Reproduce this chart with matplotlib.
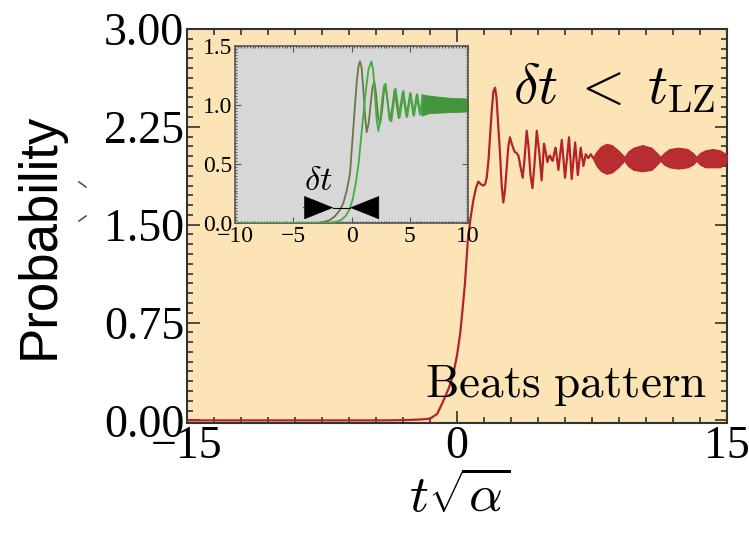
import matplotlib
matplotlib.use("Agg")
import matplotlib.pyplot as plt
from matplotlib.ticker import MultipleLocator, FixedLocator
from matplotlib.lines import Line2D

plt.rcParams['mathtext.fontset'] = 'cm'

# main curve: probability vs t*sqrt(alpha), resolved part
red_t = [-15, -4.0, -3.0, -2.5, -2.0, -1.5, -1.1, -0.76, -0.45, -0.2, 0.0, 0.17, 0.3, 0.44,
         0.6, 0.75, 0.91, 1.05, 1.18, 1.32, 1.46, 1.56, 1.65, 1.75, 1.83, 1.92, 2.02, 2.11,
         2.19, 2.28, 2.39, 2.48, 2.57, 2.66, 2.76, 2.85, 2.94, 3.04, 3.19, 3.30, 3.41, 3.53,
         3.65, 3.76, 3.87, 3.97, 4.08, 4.19, 4.31, 4.43, 4.57, 4.70, 4.77, 4.83, 4.92, 5.02,
         5.10, 5.17, 5.25, 5.32, 5.40, 5.48, 5.63, 5.82, 6.00, 6.22, 6.37, 6.56, 6.71, 6.87,
         7.02, 7.15, 7.29, 7.43, 7.57]
red_p = [0.0, 0.0, 0.002, 0.004, 0.007, 0.013, 0.05, 0.15, 0.25, 0.36, 0.5, 0.66, 0.84, 1.05,
         1.38, 1.55, 1.69, 1.78, 1.83, 1.81, 1.80, 1.81, 1.86, 2.0, 2.17, 2.36, 2.52, 2.55,
         2.48, 2.28, 2.04, 1.80, 1.67, 1.76, 1.94, 2.10, 2.17, 2.12, 2.06, 2.05, 2.03, 1.94,
         1.86, 2.02, 2.22, 2.10, 1.88, 1.78, 1.98, 2.22, 2.05, 1.84, 1.98, 2.12, 2.06, 1.98,
         2.02, 2.03, 2.00, 1.99, 2.05, 2.09, 1.92, 2.15, 1.86, 2.17, 1.85, 2.13, 1.88, 2.09,
         1.95, 2.04, 2.01, 2.04, 2.01]

# beats: envelope of the fast oscillation
beat_t = [7.57, 7.75, 8.0, 8.3, 8.6, 8.95, 9.3, 9.5, 9.8, 10.3, 10.8, 11.1, 11.3, 11.5, 11.8,
          12.3, 12.8, 13.1, 13.3, 13.5, 13.8, 14.2, 14.6, 14.85, 15.0]
beat_hi = [2.02, 2.06, 2.10, 2.12, 2.11, 2.07, 2.02, 2.06, 2.09, 2.11, 2.09, 2.05, 2.02, 2.05,
           2.08, 2.09, 2.08, 2.05, 2.02, 2.05, 2.07, 2.08, 2.07, 2.05, 2.03]
beat_lo = [2.00, 1.95, 1.91, 1.89, 1.90, 1.94, 1.99, 1.95, 1.92, 1.91, 1.92, 1.96, 1.99, 1.96,
           1.94, 1.93, 1.94, 1.96, 1.99, 1.96, 1.94, 1.94, 1.94, 1.96, 1.99]

# inset: the two single transitions
dark_t = [-10, -3.0, -2.4, -1.85, -1.4, -1.0, -0.7, -0.4, -0.13, 0.0, 0.2, 0.45, 0.6, 0.72,
          0.86, 1.0, 1.15, 1.3, 1.48, 1.65, 1.8, 1.95, 2.1, 2.28, 2.45, 2.62, 2.78, 2.92, 3.1,
          3.3, 3.5, 3.7, 3.88, 4.05, 4.22, 4.4, 4.56, 4.72, 4.88, 5.03, 5.18, 5.32, 5.46, 5.6,
          5.74, 5.87, 6.0, 6.12]
dark_p = [0.0, 0.0, 0.008, 0.025, 0.06, 0.11, 0.17, 0.28, 0.42, 0.6, 0.87, 1.2, 1.33, 1.37,
          1.32, 1.15, 0.92, 0.77, 0.85, 1.02, 1.15, 1.2, 1.1, 0.9, 0.84, 0.95, 1.12, 1.16, 1.02,
          0.87, 0.98, 1.13, 1.0, 0.89, 1.0, 1.11, 1.0, 0.9, 1.0, 1.1, 1.0, 0.91, 1.0, 1.09,
          1.0, 0.92, 1.0, 1.08]
light_t = [-10, -2.0, -1.4, -0.9, -0.5, -0.2, 0.1, 0.35, 0.6, 0.8, 1.0, 1.2, 1.45, 1.7, 1.85,
           2.0, 2.15, 2.3, 2.47, 2.63, 2.78, 2.92, 3.08, 3.25, 3.42, 3.6, 3.78, 3.95, 4.12, 4.3,
           4.46, 4.62, 4.78, 4.93, 5.08, 5.23, 5.37, 5.51, 5.65, 5.78, 5.91, 6.04, 6.16]
light_p = [0.0, 0.0, 0.008, 0.025, 0.06, 0.11, 0.2, 0.33, 0.5, 0.7, 0.9, 1.1, 1.3, 1.37, 1.3,
           1.1, 0.88, 0.78, 0.88, 1.05, 1.16, 1.18, 1.05, 0.88, 0.86, 1.0, 1.14, 1.02, 0.89,
           1.0, 1.12, 1.0, 0.9, 1.0, 1.1, 1.0, 0.91, 1.0, 1.09, 1.0, 0.92, 1.0, 1.08]
band_t = [6.0, 6.6, 7.5, 8.5, 10.0]
band_hi = [1.09, 1.08, 1.07, 1.06, 1.055]
band_lo = [0.91, 0.93, 0.935, 0.94, 0.945]

# delta t marker in the inset
dt_level = 0.13
dt_left, dt_left_tip = -4.14, -1.56
dt_right, dt_right_tip = 2.16, -0.13

main_xticks = [-15, 0, 15]
main_xlabels = ['\u221215', '0', '15']
main_yticks = [0, 0.75, 1.5, 2.25, 3.0]
main_ylabels = ['0.00', '0.75', '1.50', '2.25', '3.00']
ins_xticks = [-10, -5, 0, 5, 10]
ins_xlabels = ['\u221210', '\u22125', '0', '5', '10']
ins_yticks = [0, 0.5, 1.0, 1.5]
ins_ylabels = ['0.0', '0.5', '1.0', '1.5']

red = '#b3232a'
serif = 'Liberation Serif'

fig = plt.figure(figsize=(7.49, 5.34), dpi=100)
fig.patch.set_facecolor('white')

ax = fig.add_axes([0.2497, 0.2079, 0.7210, 0.7378])
ax.set_facecolor('#fde4b7')
ax.plot(red_t, red_p, color=red, lw=1.6, zorder=3)
ax.fill_between(beat_t, beat_lo, beat_hi, color=red, lw=0.8, edgecolor=red, alpha=0.95, zorder=3)
ax.set_xlim(-15, 15)
ax.set_ylim(-0.02, 3.0)
ax.xaxis.set_major_locator(FixedLocator(main_xticks))
ax.set_xticklabels(main_xlabels, fontfamily=serif, fontsize=33)
ax.yaxis.set_major_locator(FixedLocator(main_yticks))
ax.set_yticklabels(main_ylabels, fontfamily=serif, fontsize=33)
ax.xaxis.set_minor_locator(MultipleLocator(1.5))
ax.yaxis.set_minor_locator(MultipleLocator(0.075))
ax.tick_params(which='both', direction='in', top=True, right=True, color='#333333', width=1.2)
ax.tick_params(which='major', length=9, pad=2)
ax.tick_params(which='minor', length=4.5)
for s in ax.spines.values():
    s.set_color('#333333')
    s.set_linewidth(1.5)

ax.text(3.11, 2.43, r'$\delta t\;<\;t_{\rm LZ}$', fontsize=40, ha='left', va='baseline', zorder=4)
ax.text(-1.78, 0.176, r'$\mathrm{Beats\ pattern}$', fontsize=34, ha='left', va='baseline', zorder=4)

fig.text(40 / 749, 1 - 236 / 534, 'Probability', rotation=90, ha='center', va='center',
         fontfamily='Liberation Sans', fontsize=38)
fig.text(460 / 749, 1 - 497 / 534, r'$t\sqrt{\alpha}$', ha='center', va='center', fontsize=38)

# stray strokes left of the axis
fig.add_artist(Line2D([79 / 749, 86 / 749], [1 - 182 / 534, 1 - 187 / 534], color='#555555', lw=1.2))
fig.add_artist(Line2D([79 / 749, 86 / 749], [1 - 221 / 534, 1 - 216 / 534], color='#555555', lw=1.2))

# inset
ins = fig.add_axes([0.3138, 0.5824, 0.3111, 0.3315])
ins.set_facecolor('#d7d7d7')
ins.fill_between(band_t, band_lo, band_hi, color='#44943c', lw=0.6, edgecolor='#44943c', zorder=2)
ins.plot(dark_t, dark_p, color='#6b7745', lw=1.3, zorder=3)
ins.plot(light_t, light_p, color='#3fae3f', lw=1.3, zorder=3)
ins.plot([dt_left_tip, dt_right_tip], [dt_level, dt_level], color='black', lw=0.8, zorder=4)
for tail, tip in [(dt_left, dt_left_tip), (dt_right, dt_right_tip)]:
    ins.annotate('', xy=(tip, dt_level), xytext=(tail, dt_level), zorder=5,
                 arrowprops=dict(arrowstyle='-|>,head_length=1.0,head_width=0.4',
                                 mutation_scale=20, color='black', shrinkA=0, shrinkB=0, lw=0.5))
ins.text(-2.85, 0.28, r'$\delta t$', fontsize=25, ha='center', va='baseline', zorder=5)
ins.set_xlim(-10, 10)
ins.set_ylim(0, 1.5)
ins.xaxis.set_major_locator(FixedLocator(ins_xticks))
ins.set_xticklabels(ins_xlabels, fontfamily=serif, fontsize=17)
ins.yaxis.set_major_locator(FixedLocator(ins_yticks))
ins.set_yticklabels(ins_ylabels, fontfamily=serif, fontsize=17)
ins.xaxis.set_minor_locator(MultipleLocator(0.25))
ins.yaxis.set_minor_locator(MultipleLocator(0.025))
ins.tick_params(which='both', direction='in', top=True, right=True, color='#555555', width=0.8)
ins.tick_params(which='major', length=4, pad=2)
ins.tick_params(which='minor', length=1.5)
for s in ins.spines.values():
    s.set_color('#555555')
    s.set_linewidth(1.2)

fig.savefig('out.png', dpi=100)
